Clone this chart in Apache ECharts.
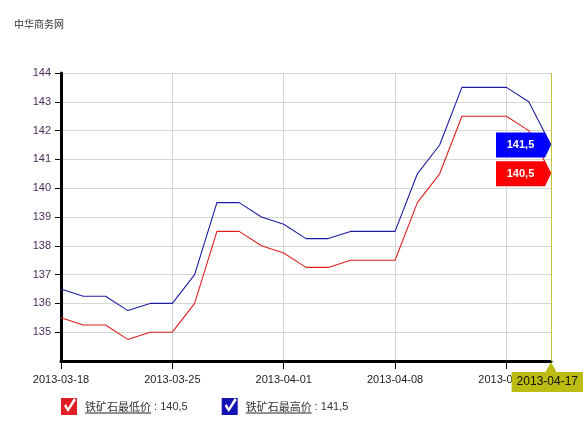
<!DOCTYPE html>
<html><head><meta charset="utf-8">
<script src="https://cdn.jsdelivr.net/npm/echarts@6/dist/echarts.min.js"></script>
<style>html,body{margin:0;padding:0;background:#fff}#c{width:583px;height:430px}</style>
</head><body><div id="c"></div>
<script>
const titleText = '中华商务网';
const dates = ['2013-03-18','2013-03-19','2013-03-20','2013-03-21','2013-03-22',
  '2013-03-25','2013-03-26','2013-03-27','2013-03-28','2013-03-29',
  '2013-04-01','2013-04-02','2013-04-03','2013-04-04','2013-04-05',
  '2013-04-08','2013-04-09','2013-04-10','2013-04-11','2013-04-12',
  '2013-04-15','2013-04-16','2013-04-17'];
const lowName = '铁矿石最低价';
const highName = '铁矿石最高价';
const lowValues = [135.5,135.25,135.25,134.75,135,135,136,138.5,138.5,138,137.75,137.25,137.25,137.5,137.5,137.5,139.5,140.5,142.5,142.5,142.5,142,140.5];
const highValues = [136.5,136.25,136.25,135.75,136,136,137,139.5,139.5,139,138.75,138.25,138.25,138.5,138.5,138.5,140.5,141.5,143.5,143.5,143.5,143,141.5];
const yTicks = [135,136,137,138,139,140,141,142,143,144];
const yMin = 134, yMax = 144;
const lowLabel = '140,5';
const highLabel = '141,5';

const last = dates.length - 1;
const numFont = 'Liberation Sans, Arial, sans-serif';
const cjkFont = 'Noto Sans CJK SC, sans-serif';
const olive = '#bcbc12';
const boxPath = 'path://M0,0L49,0L55,12.5L49,25L0,25Z';
const checkPath = 'path://M0,0L16,0L16,17L0,17Z M3,8L7,14L15,2L13,0L7,10L5,6Z';

const chart = echarts.init(document.getElementById('c'), null, {renderer: 'canvas'});
const nameW = 66, nameH = 13;
chart.setOption({
  animation: false,
  backgroundColor: '#fff',
  title: {text: titleText, left: 9, top: 14,
    textStyle: {fontSize: 10, fontWeight: 'normal', color: '#333', fontFamily: cjkFont}},
  legend: {
    left: 56, top: 393, itemWidth: 16, itemHeight: 17, itemGap: 34,
    selectedMode: false,
    data: [
      {name: lowName, icon: checkPath, itemStyle: {color: '#e01e25'}},
      {name: highName, icon: checkPath, itemStyle: {color: '#1414b4'}}
    ],
    formatter: function (name) {
      const v = name === lowName ? lowLabel : highLabel;
      return '{s|}{n|' + name + '}{v| : ' + v + '}';
    },
    textStyle: {
      color: '#333',
      rich: {
        s: {width: 3},
        n: {fontSize: 11, fontFamily: cjkFont, color: '#333', width: nameW, height: nameH,
            borderColor: '#222', borderWidth: 1,
            borderType: [0, nameW + nameH, nameW, nameH + 4]},
        v: {fontSize: 11, fontFamily: numFont, color: '#333'}
      }
    }
  },
  grid: {left: 61, right: 32, top: 73, bottom: 69},
  xAxis: {
    type: 'category', data: dates, boundaryGap: false,
    axisLine: {lineStyle: {color: '#000', width: 3}},
    axisTick: {show: true, interval: 4, length: 8, lineStyle: {color: '#000', width: 1}},
    axisLabel: {interval: 4, margin: 13, color: '#222', fontSize: 11, fontFamily: numFont},
    splitLine: {show: true, interval: 4, lineStyle: {color: '#d6d6d6', width: 1}},
    axisPointer: {
      show: true, type: 'line', status: 'show', value: dates[last], snap: true,
      triggerTooltip: false,
      lineStyle: {color: '#c4c43a', width: 1, type: 'solid'},
      label: {show: true, backgroundColor: olive, color: '#111', fontSize: 12,
        fontFamily: numFont, padding: [4, 5, 4, 5], borderRadius: 0, margin: 11}
    }
  },
  yAxis: {
    type: 'value', min: yMin, max: yMax, interval: 1,
    axisLine: {show: true, lineStyle: {color: '#000', width: 3}},
    axisTick: {show: true, length: 6, customValues: yTicks, lineStyle: {color: '#000', width: 1}},
    axisLabel: {margin: 10, color: '#4a2c58', fontSize: 11, fontFamily: numFont, customValues: yTicks},
    splitLine: {show: true, lineStyle: {color: '#d6d6d6', width: 1}}
  },
  series: [
    {
      name: lowName, type: 'line', data: lowValues, showSymbol: false, symbol: 'none',
      lineStyle: {color: '#dc2020', width: 1.1}, itemStyle: {color: '#e01e25'},
      markPoint: {
        silent: true, animation: false,
        data: [{coord: [dates[last], lowValues[last]], symbol: boxPath, symbolSize: [55, 25],
          symbolOffset: [-27.5, 0], itemStyle: {color: '#ff0000'},
          label: {show: true, formatter: lowLabel, color: '#fff', fontWeight: 'bold',
            fontSize: 11, fontFamily: numFont, offset: [-3, 0]}}]
      }
    },
    {
      name: highName, type: 'line', data: highValues, showSymbol: false, symbol: 'none',
      lineStyle: {color: '#1c1ca4', width: 1.1}, itemStyle: {color: '#1414b4'},
      markPoint: {
        silent: true, animation: false,
        data: [
          {coord: [dates[last], highValues[last]], symbol: boxPath, symbolSize: [55, 25],
            symbolOffset: [-27.5, 0], itemStyle: {color: '#0000ff'},
            label: {show: true, formatter: highLabel, color: '#fff', fontWeight: 'bold',
              fontSize: 11, fontFamily: numFont, offset: [-3, 0]}},
          {coord: [dates[last], yMin], symbol: 'triangle', symbolSize: [11, 10],
            symbolOffset: [0, 6], itemStyle: {color: olive}, label: {show: false}}
        ]
      }
    }
  ]
});
</script></body></html>
